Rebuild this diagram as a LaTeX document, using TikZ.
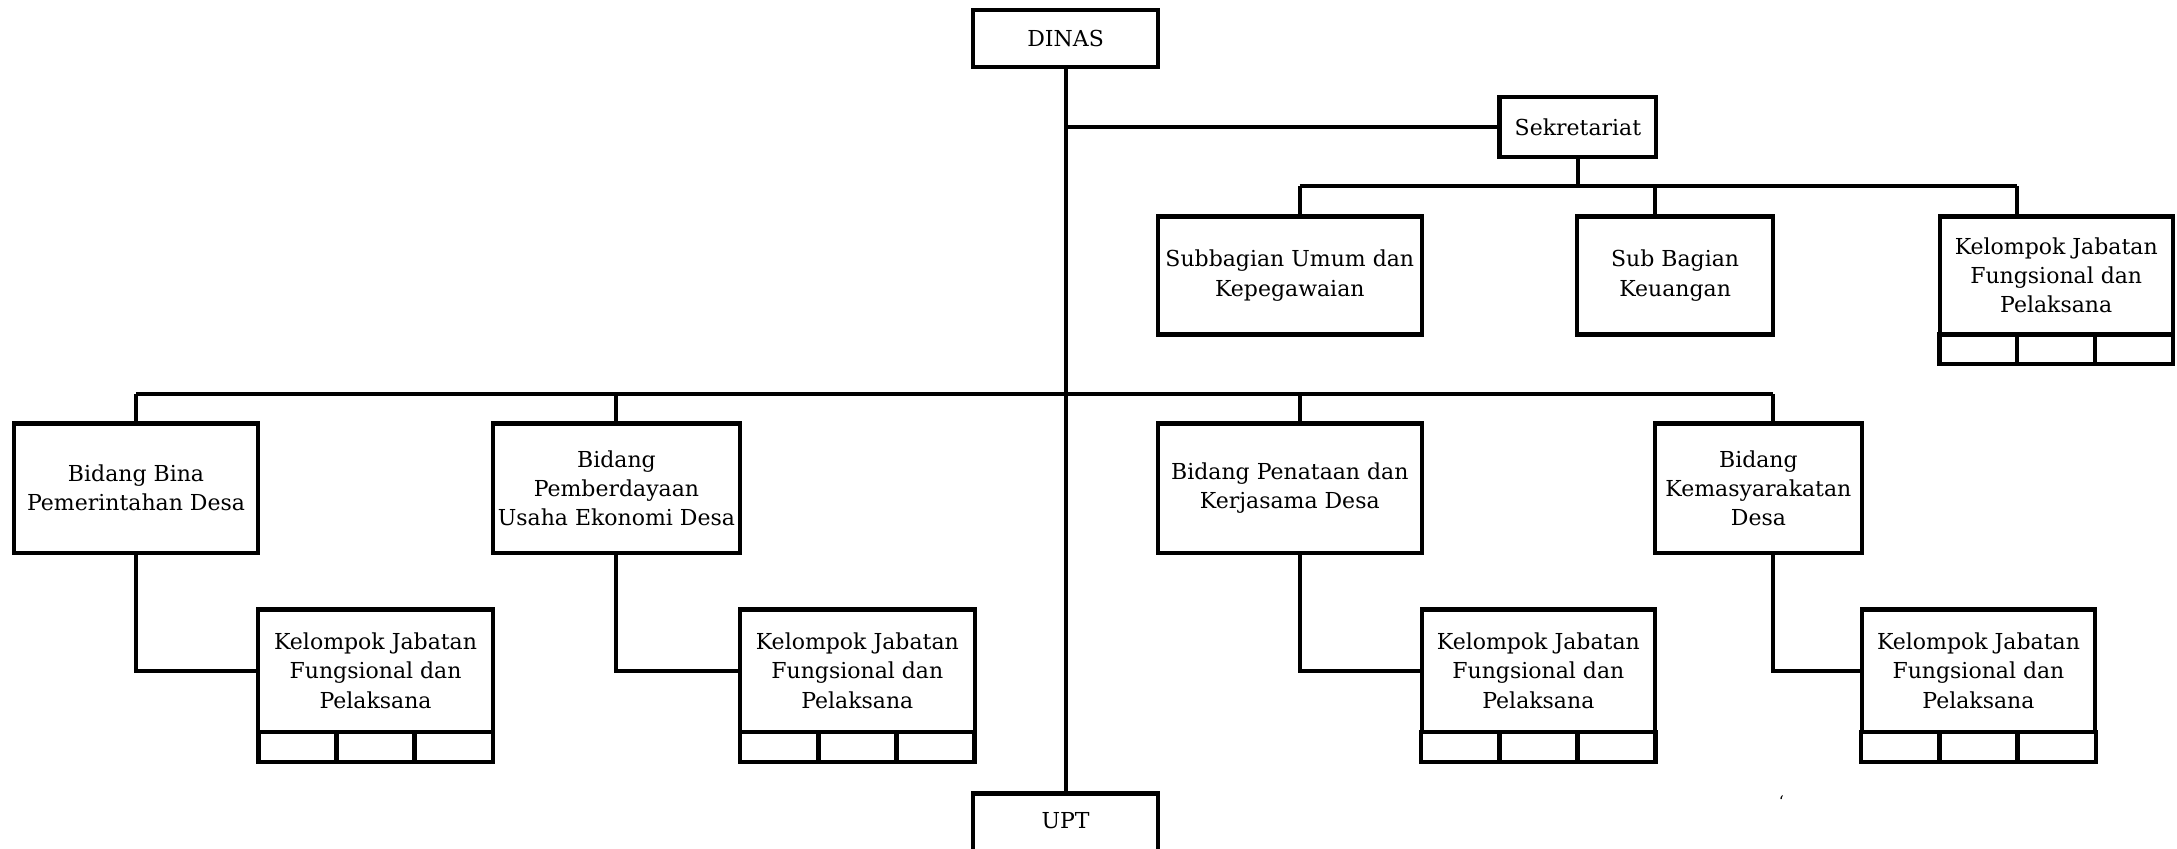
\documentclass[tikz,border=0pt]{standalone}
\usepackage{fontspec}
\setmainfont{DejaVu Serif}
\begin{document}
\begin{tikzpicture}[x=0.6942pt,y=-0.6942pt,
  every node/.style={font=\fontsize{11}{14.6}\selectfont},
  unit/.style={draw,line width=2.1pt,inner sep=0pt,align=center,fill=white},
  cell/.style={draw,line width=2.1pt,inner sep=0pt,minimum height=15.3pt,minimum width=39.1pt},
  cellb/.style={draw,line width=2.1pt,inner sep=0pt,minimum height=14.6pt,minimum width=38.9pt},
  link/.style={line width=2pt}]
\useasboundingbox (0,0) rectangle (1568,611);
% junction points
\coordinate (sj1) at (936,134);
\coordinate (sj2) at (1192,134);
\coordinate (sj3) at (1453,134);
\coordinate (mj1) at (98,284);
\coordinate (mj2) at (444,284);
\coordinate (mj3) at (936,284);
\coordinate (mj4) at (1277,284);
% nodes
\node[unit,minimum width=92.3pt,minimum height=28.5pt] (dinas) at (767.5,27.5) {DINAS};
\node[unit,minimum width=78.4pt,minimum height=29.9pt] (sek) at (1136.5,91.5) {Sekretariat};
\node[unit,minimum width=131.9pt,minimum height=59pt] (sub1) at (929,198.5) {Subbagian Umum dan\\Kepegawaian};
\node[unit,minimum width=97.9pt,minimum height=59pt] (sub2) at (1206.5,198.5) {Sub Bagian\\Keuangan};
\node[unit,minimum width=116.6pt,minimum height=59pt] (ks) at (1481,198.5) {Kelompok Jabatan\\Fungsional dan\\Pelaksana};
\node[cellb] (ksa) at (1425,251.5) {};
\node[cellb] (ksb) at (1481,251.5) {};
\node[cellb] (ksc) at (1537,251.5) {};
\node[unit,minimum width=122.2pt,minimum height=64.6pt] (b1) at (98,351.5) {Bidang Bina\\Pemerintahan Desa};
\node[unit,minimum width=123.6pt,minimum height=64.6pt] (b2) at (444,351.5) {Bidang\\Pemberdayaan\\Usaha Ekonomi Desa};
\node[unit,minimum width=131.9pt,minimum height=64.6pt] (b3) at (929,351.5) {Bidang Penataan dan\\Kerjasama Desa};
\node[unit,minimum width=103.4pt,minimum height=64.6pt] (b4) at (1266.5,351.5) {Bidang\\Kemasyarakatan\\Desa};
\node[unit,minimum width=117.3pt,minimum height=61.1pt] (k1) at (270.5,483) {Kelompok Jabatan\\Fungsional dan\\Pelaksana};
\node[unit,minimum width=117.3pt,minimum height=61.1pt] (k2) at (617.5,483) {Kelompok Jabatan\\Fungsional dan\\Pelaksana};
\node[unit,minimum width=116.6pt,minimum height=61.1pt] (k3) at (1108,483) {Kelompok Jabatan\\Fungsional dan\\Pelaksana};
\node[unit,minimum width=116.6pt,minimum height=61.1pt] (k4) at (1425,483) {Kelompok Jabatan\\Fungsional dan\\Pelaksana};
\foreach \n/\c in {k1/270.5,k2/617.5,k3/1108,k4/1425}{
  \node[cell] (\n a) at (\c-56.2,538) {};
  \node[cell] (\n b) at (\c,538) {};
  \node[cell] (\n c) at (\c+56.2,538) {};
}
\node[unit,minimum width=92.3pt,minimum height=36pt,anchor=north] (upt) at (767.5,570) {};
\node at (767.5,591) {UPT};
\node[font=\fontsize{8}{8}\selectfont,inner sep=0pt] (tick) at (1283,577) {`};
% connectors
\draw[link] (dinas.south) -- (upt.north);
\draw[link] (dinas.south |- sek.west) -- (sek.west);
\draw[link] (sek.south) -- (sek.south |- sj1);
\draw[link] (sj1) -- (sj3);
\draw[link] (sj1) -- (sj1 |- sub1.north);
\draw[link] (sj2) -- (sj2 |- sub2.north);
\draw[link] (sj3) -- (sj3 |- ks.north);
\draw[link] (mj1) -- (mj4);
\draw[link] (mj1) -- (b1.north);
\draw[link] (mj2) -- (b2.north);
\draw[link] (mj3) -- (mj3 |- b3.north);
\draw[link] (mj4) -- (mj4 |- b4.north);
\draw[link] (b1.south) |- (k1.west);
\draw[link] (b2.south) |- (k2.west);
\draw[link] (b3.south -| mj3) |- (k3.west);
\draw[link] (b4.south -| mj4) |- (k4.west);
\end{tikzpicture}
\end{document}
